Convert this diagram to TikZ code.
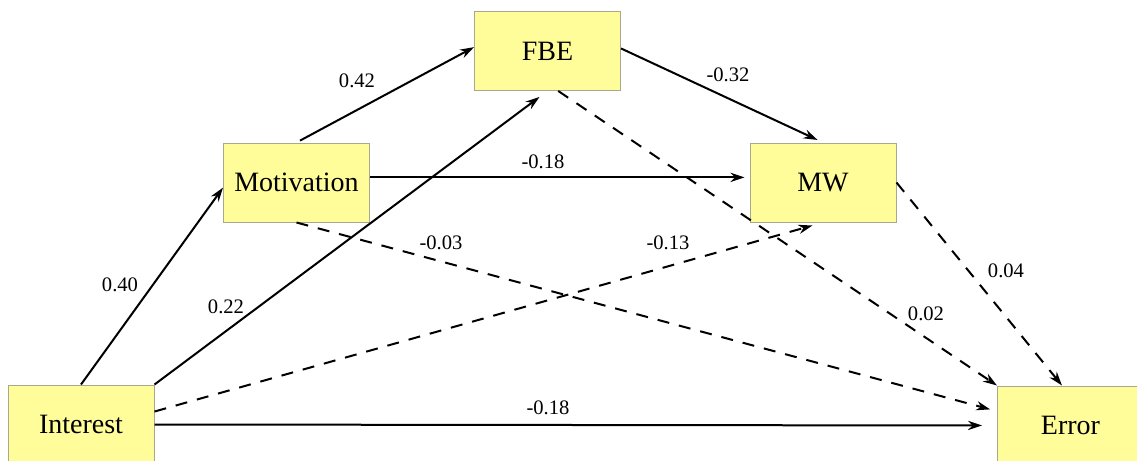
\documentclass[tikz,border=0pt]{standalone}
\usepackage{fontspec}
\setmainfont{Liberation Serif}
\usetikzlibrary{arrows.meta}
\usetikzlibrary{positioning}
\definecolor{boxyellow}{RGB}{255,253,153}
\definecolor{boxline}{RGB}{170,168,140}

\begin{document}
\begin{tikzpicture}[x=0.5pt, y=-0.5pt, line width=1pt, -{Stealth[length=7pt,width=4.6pt]}, draw=black]
    \tikzstyle{var}=[draw=boxline, line width=0.5pt, rectangle, fill=boxyellow, minimum width=73pt, minimum height=39.5pt, inner sep=0pt, font=\fontsize{14}{16}\selectfont]
    \tikzstyle{coef}=[inner sep=0pt, font=\fontsize{10.3}{12}\selectfont]
    \tikzstyle{weak}=[dash pattern=on 6pt off 5pt]

    \useasboundingbox (0,0) rectangle (1137,461);
    \clip (0,0) rectangle (1137,461);

    \node[var] (interest) at (81,424.5) {Interest};
    \node[var] (motivation) at (296.5,182.5) {Motivation};
    \node[var] (fbe) at (547.5,51) {FBE};
    \node[var] (mw) at (823,182.5) {MW};
    \node[var] (error) at (1070.5,425.5) {Error};

    \draw (interest.north) -- (motivation.184);
    \draw[shorten >=5pt] (interest.north east) -- (fbe.south);
    \draw[weak, shorten >=5.5pt] (interest.10) -- (mw.south);
    \draw[shorten >=7.5pt] (interest.east) -- (error.west);
    \draw[shorten <=2pt] (motivation.north) -- (fbe.177);
    \draw[shorten >=2.5pt] (motivation.4) -- (mw.176);
    \draw[weak, shorten >=3.5pt] (motivation.south) -- (error.169);
    \draw[shorten >=3pt] (fbe.2) -- (mw.north);
    \draw[weak] (fbe.-75) -- (error.north west);
    \draw[weak] (mw.east) -- (error.102);

    \node[coef] (c1) at (120,285) {0.40};
    \node[coef] (c2) at (226,307) {0.22};
    \node[coef] (c3) at (668,243) {-0.13};
    \node[coef] (c4) at (548,408) {-0.18};
    \node[coef] (c5) at (357,81) {0.42};
    \node[coef] (c6) at (543,162) {-0.18};
    \node[coef] (c7) at (441,243) {-0.03};
    \node[coef] (c8) at (728,75) {-0.32};
    \node[coef] (c9) at (926,314) {0.02};
    \node[coef] (c10) at (1006,271) {0.04};

\end{tikzpicture}
\end{document}
